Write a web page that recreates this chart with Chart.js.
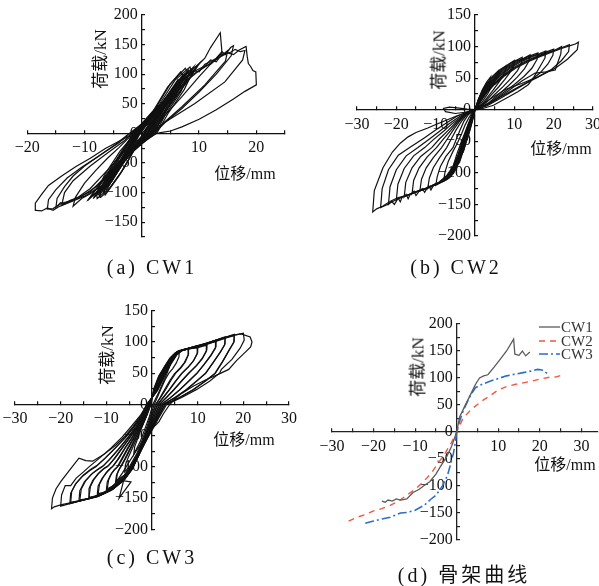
<!DOCTYPE html>
<html>
<head>
<meta charset="utf-8">
<script src="https://cdn.jsdelivr.net/npm/chart.js@4.4.0/dist/chart.umd.min.js"></script>
<style>
html, body { margin: 0; padding: 0; background: #fff; }
#wrap { position: relative; width: 599px; height: 586px; overflow: hidden; background: #fff; }
#wrap canvas { position: absolute; left: -40px; top: -40px; }
.t { position: absolute; white-space: nowrap; color: #111; transform: translate(-50%, -50%);
     font-family: 'Liberation Serif', 'DejaVu Serif', 'Noto Sans CJK SC', serif; font-size: 16px; }
.yt { transform: translate(-50%, -50%) rotate(-90deg); font-size: 17px; }
.cap { font-size: 20px; letter-spacing: 3px; }
</style>
</head>
<body>
<div id="wrap">
  <canvas id="cA" width="680" height="670"></canvas>
  <canvas id="cB" width="680" height="670"></canvas>
  <canvas id="cC" width="680" height="670"></canvas>
  <canvas id="cD" width="680" height="670"></canvas>

  <div class="t yt" style="left:98px;top:59px">荷载/kN</div>
  <div class="t" style="left:245px;top:172px">位移/mm</div>
  <div class="t cap" style="left:152px;top:267px">(a) CW1</div>

  <div class="t yt" style="left:437px;top:60px">荷载/kN</div>
  <div class="t" style="left:561px;top:147px">位移/mm</div>
  <div class="t cap" style="left:456px;top:267px">(b) CW2</div>

  <div class="t yt" style="left:105px;top:355px">荷载/kN</div>
  <div class="t" style="left:244px;top:438px">位移/mm</div>
  <div class="t cap" style="left:152px;top:557px">(c) CW3</div>

  <div class="t yt" style="left:416px;top:367px">荷载/kN</div>
  <div class="t" style="left:565px;top:463px">位移/mm</div>
  <div class="t cap" style="left:464px;top:573px">(d) 骨架曲线</div>
</div>
<script>
// ---- data: displacement (mm), load (kN) ----

// tick labels per panel
const xLabelsA = [-20, -10, 10, 20];
const yLabelsA = [200, 150, 100, 50, 0, -50, -100, -150];
const xLabelsB = [-30, -20, -10, 10, 20, 30];
const yLabelsB = [150, 100, 50, 0, -50, -100, -150, -200];
const xLabelsC = [-30, -20, -10, 10, 20, 30];
const yLabelsC = [150, 100, 50, 0, -50, -100, -150, -200];
const xLabelsD = [-30, -20, -10, 10, 20, 30];
const yLabelsD = [200, 150, 100, 50, 0, -50, -100, -150, -200];

// (a) CW1 hysteresis cycles
const cw1Cycles = [
  [[-0.3,0],[1,16],[2,30],[1.6,22],[0.3,0],[-1,-17],[-2,-32],[-1.6,-23],[-0.3,0]],
  [[-0.4,0],[1.5,23],[3,44],[2.4,33],[0.4,0],[-1.5,-24],[-3,-46],[-2.4,-34],[-0.4,0]],
  [[-0.5,0],[2,30],[4,57],[3.3,44],[0.5,0],[-2,-31],[-3.8,-58],[-3.1,-45],[-0.5,0]],
  [[-0.6,0],[2.5,37],[5,70],[4.2,55],[0.6,0],[-2.4,-37],[-4.6,-70],[-3.8,-55],[-0.6,0]],
  [[-0.7,0],[3,44],[6,82],[5.1,66],[0.8,0],[-2.8,-43],[-5.3,-82],[-4.4,-65],[-0.7,0]],
  [[-0.8,0],[3.4,50],[6.8,93],[5.8,76],[0.9,0],[-3.2,-49],[-6,-92],[-5,-74],[-0.8,0]],
  [[-0.9,0],[3.8,55],[7.5,101],[6.5,84],[1,0],[-3.6,-54],[-6.8,-100],[-5.7,-82],[-0.9,0]],
  [[-1,0],[4,57],[6.5,90],[7.2,97],[8.2,108],[7.1,90],[1.1,0],[-4,-58],[-7.5,-106],[-6.3,-88],[-1,0]],
  [[-1.1,0],[4.3,60],[7,97],[8,102],[9,112],[7.8,92],[1.3,0],[-4.5,-62],[-7,-95],[-8.5,-110],[-7.2,-92],[-1.1,0]],
  [[-1.2,0],[4.5,62],[7.5,100],[8.5,104],[10,118],[8.6,98],[1.5,0],[-5,-65],[-8,-100],[-9.5,-114],[-8,-95],[-1.2,0]],
  [[-0.6,0],[2.8,36],[5.5,72],[7.2,98],[6.4,82],[3.5,40],[1.4,0],[-2.5,-38],[-5.2,-75],[-6.8,-102],[-6,-86],[-3,-42],[-0.6,0]],
  [[-0.8,0],[3.2,42],[6,78],[8,103],[7,86],[4,44],[1.6,0],[-3,-44],[-6,-84],[-7.6,-104],[-6.6,-88],[-3.6,-46],[-0.8,0]],
  [[-1,0],[3.6,46],[6.6,84],[8.8,106],[7.7,90],[4.5,48],[1.8,0],[-3.4,-48],[-6.6,-90],[-8.4,-108],[-7.3,-92],[-4.2,-52],[-1,0]],
  [[-1.3,0],[3.5,40],[7,86],[9.5,110],[8.3,92],[5,50],[2,0],[-3.8,-50],[-7.2,-94],[-9.2,-110],[-8,-94],[-4.8,-54],[-1.3,0]],
  [[-0.4,0],[2.2,33],[4.6,66],[6.4,92],[5.6,77],[2.8,36],[1,0],[-2,-33],[-4.5,-68],[-6.2,-96],[-5.4,-80],[-2.5,-38],[-0.4,0]],
  [[-1.6,0],[2,38],[4.5,78],[6.8,104],[7.4,96],[6,65],[3.5,28],[2.2,0],[-1.5,-30],[-4,-72],[-6.4,-104],[-6.6,-95],[-5.5,-66],[-3,-26],[-1.6,0]],
  [[-1.4,0],[2.5,44],[5,84],[7.6,110],[8.2,100],[6.8,70],[4,30],[2.4,0],[-1.2,-26],[-3.6,-66],[-6,-98],[-7.2,-108],[-7.3,-98],[-6,-68],[-3.4,-28],[-1.4,0]],
  [[-1.2,0],[3,48],[5.8,90],[8.4,112],[8.8,102],[7.4,74],[4.6,34],[2.6,0],[-1,-22],[-3.2,-60],[-5.6,-92],[-7.8,-110],[-7.9,-100],[-6.5,-70],[-3.8,-30],[-1.2,0]],
  [[-1.5,0],[3,45],[6,85],[8,104],[9,110],[10,117],[11,127],[12,145],[13.7,170],[14,136],[12,117],[10,96],[7,62],[4,30],[1.8,0],
   [-1,-25],[-4,-56],[-7,-88],[-9,-102],[-10.5,-110],[-12,-123],[-11.6,-108],[-10,-84],[-8,-62],[-6,-42],[-4,-24],[-1.5,0]],
  [[-2.2,0],[4,45],[7,82],[9,100],[11,112],[12.5,122],[14,132],[15,140],[14.6,122],[11,82],[7,45],[3.5,15],[1.8,0],
   [-2,-28],[-5,-58],[-8,-90],[-10.5,-106],[-12.5,-114],[-14,-118],[-15.5,-127],[-16.5,-128],[-16.3,-112],[-15,-95],[-13,-75],[-10.5,-57],[-7.5,-38],[-4.5,-18],[-2.2,0]],
  [[-2,0],[3,40],[6,78],[8,98],[9,106],[10,104],[11,117],[12,121],[13,127],[14,138],[14.6,133],[15.5,145],[16,148],[15.6,131],[13,100],[10,70],[7,42],[4,18],[2.2,0],
   [-1,-22],[-4,-50],[-7,-80],[-9,-98],[-11,-108],[-12.5,-113],[-13.5,-119],[-14.2,-117],[-15,-125],[-14.8,-110],[-13.5,-90],[-12,-72],[-10,-55],[-7,-35],[-4,-16],[-2,0]],
  [[-1.8,0],[4,50],[7,88],[9,104],[11,114],[12,124],[13,121],[14,134],[15.5,137],[16.3,142],[17.2,138],[18,140],[17.6,124],[14.5,87],[9.2,50],[3.9,18],[1.5,0],
   [-2,-28],[-5,-62],[-8,-94],[-10,-106],[-12,-114],[-14,-122],[-13.5,-100],[-12,-80],[-9,-55],[-6,-33],[-3,-12],[-1.8,0]],
  [[0,0],[3,32],[6,68],[8,90],[10,106],[11,113],[12,117],[13,125],[14,131],[15,136],[16,133],[17,141],[18.2,147],[18.4,130],[18.6,118],[19,113],[19.4,106],[19.9,104],[20,82],
   [18,71],[16,58],[13,40],[10,24],[7,11],[5,4],[3,1],[0.5,-2],[-3,-30],[-6,-62],[-9,-93],[-11,-107],[-13,-117],[-14.5,-124],[-15.5,-130],[-16.5,-126],[-17.5,-131],[-18.5,-130],
   [-18.6,-118],[-17.5,-103],[-16.3,-88],[-14,-72],[-11.5,-56],[-9,-42],[-6.3,-25],[-2.6,-6],[0,0]]
];

// (b) CW2 hysteresis cycles
const cw2Cycles = [
  [[0,0],[0.8,15],[1.5,24],[2,30],[1.8,24],[1.2,14],[0.5,5],[0,0],[-0.5,-14],[-1,-26],[-1.5,-37],[-2,-48],[-1.5,-34],[-0.9,-18],[-0.3,-5],[0,0]],
  [[0,0],[0.8,15],[1.7,28],[2.4,36],[3,42],[2.8,35],[2.2,25],[1.4,14],[0.6,5],[0,0],[-0.5,-13],[-1.1,-27],[-1.8,-42],[-2.4,-55],[-3,-68],[-2.5,-52],[-1.8,-36],[-1.1,-20],[-0.4,-7],[0,0]],
  [[0,0],[0.9,17],[1.9,32],[3,44],[4,52],[3.8,45],[3.2,36],[2.4,25],[1.5,14],[0.6,5],[0,0],[-0.5,-12],[-1.2,-27],[-2,-45],[-2.8,-62],[-3.5,-75],[-4,-85],
   [-3.5,-68],[-2.8,-52],[-2,-36],[-1.2,-20],[-0.5,-7],[0,0]],
  [[0,0],[0.9,16],[2,31],[3.1,42],[4.5,53],[6,62],[5.8,55],[5.1,46],[4.2,36],[3.2,25],[2,14],[0.9,5],[0,0],[-0.6,-12],[-1.3,-27],[-2.1,-46],[-3,-65],[-4,-82],[-5,-95],[-6,-104],
   [-5.5,-88],[-4.6,-70],[-3.6,-53],[-2.6,-37],[-1.7,-22],[-0.8,-8],[0,0]],
  [[0,0],[1,16],[2.1,30],[3.3,42],[5,55],[6.5,64],[8,70],[7.8,62],[7,52],[5.9,42],[4.6,31],[3.2,20],[1.8,9],[0.6,2],[0,0],
   [-0.6,-12],[-1.4,-27],[-2.2,-47],[-3.2,-67],[-4.3,-86],[-5.4,-100],[-6.6,-108],[-8,-113],[-7.6,-98],[-6.8,-82],[-5.6,-66],[-4.4,-52],[-3.4,-38],[-2.5,-24],[-1.5,-12],[-0.4,-2],[0,0]],
  [[0,0],[1,15],[2.2,29],[3.4,41],[5.2,54],[7,65],[8.5,72],[10,78],[9.8,70],[8.9,59],[7.6,48],[6,36],[4.2,24],[2.5,12],[0.9,3],[0,0],
   [-0.7,-12],[-1.5,-27],[-2.4,-48],[-3.4,-68],[-4.5,-87],[-5.7,-102],[-7,-110],[-8.5,-115],[-10,-120],[-9.6,-106],[-8.8,-90],[-7.4,-74],[-5.6,-60],[-4.7,-46],[-3.8,-32],[-2.8,-18],[-1.7,-8],[-0.5,-2],[0,0]],
  [[0,0],[1.1,15],[2.3,29],[3.6,41],[5.4,54],[7.5,66],[9.5,75],[12,83],[11.8,74],[10.8,62],[9.2,50],[7.2,37],[5,24],[3,12],[1.1,3],[0,0],
   [-0.7,-11],[-1.6,-27],[-2.5,-48],[-3.6,-69],[-4.7,-88],[-6,-103],[-7.4,-111],[-9,-116],[-10.5,-119],[-11.2,-127],[-11.7,-121],[-12,-124],
   [-11.6,-108],[-10.6,-92],[-9,-76],[-7.2,-60],[-6,-46],[-4.8,-32],[-3.5,-19],[-2.1,-8],[-0.7,-2],[0,0]],
  [[0,0],[1.1,14],[2.4,28],[3.8,41],[5.6,54],[8,67],[10.5,77],[12.5,82],[14,87],[13.8,78],[12.6,65],[10.8,52],[8.5,38],[6,24],[3.5,11],[1.3,3],[0,0],
   [-0.7,-11],[-1.6,-27],[-2.6,-48],[-3.7,-69],[-4.9,-88],[-6.2,-103],[-7.7,-112],[-9.3,-116],[-10.8,-121],[-12.1,-123],[-12.8,-131],[-13.4,-125],[-14,-128],
   [-13.6,-110],[-12.4,-92],[-10.6,-76],[-8.5,-60],[-7,-46],[-5.5,-32],[-4,-19],[-2.4,-8],[-0.8,-2],[0,0]],
  [[0,0],[1.2,14],[2.5,28],[4,41],[5.9,54],[8.4,67],[11,77],[13.5,84],[16,90],[15.8,80],[14.5,66],[12.5,53],[10,40],[7,26],[4,12],[1.5,3],[0,0],
   [-0.8,-12],[-1.7,-28],[-2.7,-49],[-3.8,-70],[-5,-89],[-6.4,-104],[-8,-113],[-9.6,-117],[-11.2,-122],[-12.7,-125],[-14.2,-129],[-15,-136],[-15.5,-129],[-16,-133],
   [-15.6,-112],[-14.2,-92],[-12.2,-75],[-9.8,-60],[-8,-46],[-6.2,-33],[-4.5,-20],[-2.7,-9],[-0.9,-2],[0,0]],
  [[0,0],[1.2,14],[2.6,28],[4.2,41],[6.2,54],[8.8,67],[11.5,77],[14.5,85],[16.5,89],[18,93],[17.8,82],[16.5,68],[15,52],[13.6,40],[11,29],[8.5,20],[4.7,7],[2,2],[0,0],
   [-0.8,-12],[-1.8,-28],[-2.8,-49],[-3.9,-70],[-5.1,-89],[-6.6,-104],[-8.2,-113],[-9.9,-118],[-11.6,-123],[-13.2,-126],[-14.9,-130],[-16.4,-133],[-17,-141],[-17.5,-134],[-18,-138],
   [-17.6,-115],[-16,-92],[-13.8,-74],[-11,-60],[-9,-46],[-7,-34],[-5,-21],[-3,-10],[-1,-3],[0,0]],
  [[0,0],[1.3,14],[2.7,28],[4.4,41],[6.5,54],[9.2,67],[12,77],[15,85],[17.5,90],[20,96],[19.8,86],[18.5,72],[16.5,58],[13.6,44],[10,31],[6.5,18],[3,6],[0,0],
   [-0.8,-11],[-1.8,-28],[-2.9,-49],[-4,-70],[-5.2,-89],[-6.7,-104],[-8.4,-114],[-10.2,-118],[-12,-124],[-13.8,-127],[-15.5,-131],[-17,-135],[-18.5,-138],[-19,-146],[-19.5,-140],[-20,-143],
   [-19.6,-118],[-18,-93],[-15.6,-73],[-12.8,-60],[-10.5,-47],[-8,-34],[-5.8,-22],[-3.5,-11],[-1.2,-3],[0,0]],
  [[0,0],[1.3,13],[2.8,27],[4.6,40],[6.8,53],[9.6,66],[12.5,76],[15.5,84],[18.5,91],[20.5,95],[22,100],[21.8,88],[21,74],[20.4,63],[18,60],[15.3,58],[12,46],[8.5,30],[4.5,13],[0,0],
   [-0.9,-12],[-1.9,-28],[-3,-49],[-4.1,-70],[-5.3,-89],[-6.9,-104],[-8.6,-114],[-10.5,-119],[-12.4,-125],[-14.3,-129],[-16.2,-133],[-18,-137],[-19.6,-141],[-20.5,-150],[-21.2,-145],[-22,-150],
   [-21.6,-122],[-20,-95],[-17.5,-73],[-14.5,-60],[-11.5,-46],[-9,-34],[-6.5,-22],[-4,-11],[-1.5,-3],[0,0]],
  [[0,0],[1.4,13],[2.9,27],[4.8,40],[7.1,53],[10,66],[13,76],[16,84],[19,91],[21.5,97],[24,103],[23.8,92],[22,78],[19.5,64],[15.5,50],[11,36],[7,22],[3.5,9],[0,0],
   [-0.9,-12],[-2,-29],[-3.1,-50],[-4.2,-71],[-5.5,-90],[-7.1,-105],[-8.9,-115],[-10.8,-120],[-12.8,-126],[-14.8,-130],[-16.8,-135],[-18.8,-139],[-20.8,-145],[-22.5,-151],[-24,-155],
   [-23.6,-125],[-22,-95],[-19.5,-72],[-16.6,-60],[-13,-45],[-10,-32],[-7,-20],[-4.5,-10],[-2,-4],[0,0]],
  [[0,0],[1.4,13],[3,27],[5,40],[7.4,53],[10.4,66],[13.5,76],[16.5,84],[19.5,91],[22,97],[24,101],[25.5,104],[26.3,107],[26,95],[23.5,80],[20.5,66],[16,52],[12,42],[7.7,32],[3.4,15],[0,0],
   [-1,-12],[-2,-29],[-3.2,-50],[-4.3,-71],[-5.6,-90],[-7.3,-105],[-9.2,-115],[-11.2,-121],[-13.3,-127],[-15.4,-131],[-17.5,-136],[-19.5,-139],[-21.5,-145],[-23.5,-153],[-25,-157],[-26,-162],
   [-25.6,-128],[-23.4,-92],[-21,-67],[-19,-53],[-17,-43],[-15,-36],[-12,-29],[-9.8,-23],[-7,-16],[-4.7,-10],[-2,-4],[0,0]],
  [[0,0],[-2,1],[-4.5,3],[-6.5,4],[-8,2],[-7.5,-3],[-5,-6],[-2.5,-4],[0,0]]
];

// (c) CW3 hysteresis cycles
const cw3Cycles = [
  [[-0.2,0],[0.4,25],[1.5,46],[2.8,60],[4,70],[3.8,60],[3.2,48],[2.4,35],[1.5,20],[0.7,8],[0.2,0],
   [-0.6,-20],[-1.6,-40],[-2.6,-60],[-4,-80],[-3.8,-68],[-3.2,-56],[-2.4,-40],[-1.5,-24],[-0.6,-8],[-0.2,0]],
  [[-0.3,0],[0.4,24],[1.5,45],[2.7,60],[3.9,74],[5,82],[6,86],[5.9,76],[5.3,66],[4.5,57],[3.7,50],[2.9,40],[2.1,27],[1.2,12],[0.5,0],
   [-0.4,-20],[-1.3,-40],[-2.3,-60],[-3.4,-80],[-4.8,-98],[-6,-108],[-5.8,-96],[-5.2,-85],[-4.4,-72],[-3.3,-54],[-2.2,-36],[-1.1,-17],[-0.3,0]],
  [[-0.4,0],[0.5,24],[1.6,45],[2.9,62],[4.1,75],[5.2,83],[6.5,87],[8,90],[8,80],[7.3,68],[6.3,58],[5.2,50],[4.2,39],[3.1,25],[1.9,11],[0.8,0],
   [-0.2,-20],[-1.1,-40],[-2.1,-60],[-3.2,-80],[-4.6,-98],[-6.1,-114],[-8,-126],
   [-7.8,-114],[-7.3,-105],[-6.9,-100],[-6,-88],[-4.9,-72],[-3.7,-54],[-2.4,-36],[-1.2,-17],[-0.4,0]],
  [[-0.5,0],[0.7,25],[1.9,47],[3.1,63],[4.3,76],[5.4,84],[6.8,87],[8,89],[7.9,79],[7.1,67],[6,57],[4.9,49],[3.9,38],[2.8,24],[1.7,10],[0.9,0],
   [-0.1,-20],[-1,-40],[-2,-60],[-3.1,-80],[-4.5,-99],[-6,-113],[-7.8,-122],[-7.6,-111],[-7,-102],[-6.4,-95],[-5.6,-84],[-4.6,-70],[-3.5,-53],[-2.3,-36],[-1.2,-18],[-0.5,0]],
  [[-0.5,0],[0.6,24],[1.8,46],[3,62],[4.3,76],[5.4,84],[7,88],[8.5,90],[10,93],[10,83],[9.2,71],[8,60],[6.6,50],[5.3,38],[3.9,24],[2.5,11],[1.2,0],
   [0.1,-20],[-0.9,-40],[-1.9,-60],[-3.1,-80],[-4.5,-99],[-6.1,-115],[-8,-128],[-10,-138],
   [-9.8,-124],[-9.1,-113],[-8.3,-105],[-7.6,-100],[-6.7,-88],[-5.5,-72],[-4.1,-54],[-2.7,-36],[-1.4,-17],[-0.5,0]],
  [[-0.6,0],[0.8,25],[2,47],[3.3,64],[4.5,77],[5.7,85],[7.4,88],[9,90],[10,91],[9.9,81],[9,69],[7.8,59],[6.4,49],[5.1,37],[3.7,23],[2.3,10],[1.3,0],
   [0.2,-20],[-0.8,-40],[-1.8,-60],[-3,-80],[-4.4,-100],[-6,-116],[-7.8,-128],[-9.8,-135],[-9.5,-121],[-8.8,-110],[-8,-103],[-7.3,-98],[-6.4,-86],[-5.2,-70],[-3.9,-53],[-2.6,-36],[-1.3,-18],[-0.6,0]],
  [[-0.6,0],[0.7,24],[1.9,45],[3.2,63],[4.5,77],[5.6,85],[7.5,89],[10,92],[12,97],[12,87],[11.1,75],[9.7,62],[8.1,50],[6.6,38],[4.9,24],[3.2,11],[1.6,0],
   [0.4,-20],[-0.7,-40],[-1.8,-60],[-3,-80],[-4.4,-100],[-6,-116],[-7.2,-150],[-4.6,-124],[-6.4,-122],[-8,-130],[-10,-139],[-12,-146],
   [-11.8,-131],[-11,-119],[-10,-109],[-9.2,-103],[-8.7,-100],[-7.5,-88],[-6.1,-72],[-4.5,-54],[-3,-36],[-1.6,-17],[-0.6,0]],
  [[-0.7,0],[0.9,24],[2.1,46],[3.4,64],[4.7,78],[5.9,85],[8,89],[10,91],[12,95],[11.9,85],[11,73],[9.6,61],[7.9,49],[6.4,37],[4.7,23],[3,10],[1.7,0],
   [0.5,-20],[-0.6,-40],[-1.7,-60],[-2.9,-80],[-4.3,-100],[-5.9,-117],[-8,-131],[-10,-140],[-11.8,-143],[-11.5,-128],[-10.7,-117],[-9.7,-107],[-8.9,-101],[-8.4,-98],
   [-7.2,-86],[-5.9,-70],[-4.3,-53],[-2.9,-36],[-1.5,-18],[-0.7,0]],
  [[-0.7,0],[0.8,24],[2.1,45],[3.4,63],[4.7,77],[5.8,85],[8,89],[10,93],[12,97],[14,103],[14,92],[13,80],[11.5,65],[9.9,50],[8.2,38],[6.2,24],[4.1,11],[2,0],
   [0.7,-20],[-0.5,-40],[-1.7,-60],[-2.9,-80],[-4.3,-100],[-6,-117],[-8.2,-132],[-10.5,-142],[-12.5,-147],[-14,-151],
   [-13.8,-135],[-13,-122],[-11.8,-111],[-10.7,-104],[-9.8,-100],[-8.4,-88],[-6.8,-72],[-5,-54],[-3.3,-36],[-1.8,-17],[-0.7,0]],
  [[-0.8,0],[1,24],[2.3,46],[3.6,64],[4.9,78],[6,86],[8.3,90],[10.5,93],[12.5,97],[14,101],[13.9,90],[12.9,78],[11.3,63],[9.7,49],[8,37],[6,23],[3.9,10],[2.1,0],
   [0.8,-20],[-0.4,-40],[-1.6,-60],[-2.8,-80],[-4.2,-100],[-5.9,-118],[-8.2,-133],[-10.5,-143],[-12.5,-147],[-13.8,-149],[-13.5,-132],[-12.7,-120],[-11.5,-109],[-10.4,-102],[-9.5,-98],
   [-8.1,-86],[-6.5,-70],[-4.8,-53],[-3.2,-36],[-1.7,-18],[-0.8,0]],
  [[-0.8,0],[0.9,23],[2.3,45],[3.6,63],[4.9,78],[6,86],[8,90],[10,93],[12,98],[14,103],[16,108],[16,97],[15,84],[13.5,68],[11.8,50],[9.9,38],[7.6,24],[5,11],[2.4,0],
   [1,-20],[-0.3,-40],[-1.6,-60],[-2.8,-80],[-4.2,-101],[-5.9,-118],[-8.3,-134],[-11,-144],[-13.5,-150],[-16,-155],
   [-15.8,-138],[-14.8,-124],[-13.3,-112],[-12,-105],[-10.9,-100],[-9.3,-88],[-7.4,-72],[-5.4,-54],[-3.6,-36],[-2,-17],[-0.8,0]],
  [[-0.9,0],[1.1,23],[2.5,45],[3.8,64],[5.1,78],[6.2,86],[8.5,90],[10.5,93],[12.5,98],[14.5,103],[16,106],[15.9,95],[14.8,82],[13.3,66],[11.6,49],[9.7,37],[7.4,23],[4.9,10],[2.5,0],
   [1.1,-20],[-0.2,-40],[-1.5,-60],[-2.8,-80],[-4.2,-101],[-6,-119],[-8.4,-135],[-11.2,-145],[-13.8,-151],[-15.8,-153],[-15.5,-136],[-14.5,-122],[-13,-110],[-11.7,-103],[-10.6,-98],
   [-9,-86],[-7.1,-70],[-5.2,-53],[-3.4,-36],[-1.9,-18],[-0.9,0]],
  [[-0.9,0],[1,23],[2.4,45],[3.8,64],[5.1,78],[6.2,86],[8.5,91],[11,95],[13,100],[15.5,106],[18,112],[18,101],[17,88],[15.6,70],[13.9,50],[11.8,38],[9.1,24],[6,11],[2.8,0],
   [1.3,-20],[-0.1,-40],[-1.5,-60],[-2.8,-80],[-4.2,-102],[-6,-120],[-8.6,-136],[-11.5,-146],[-14.5,-152],[-18,-159],
   [-17.8,-142],[-16.8,-128],[-15.2,-115],[-13.6,-106],[-12.3,-100],[-10.5,-88],[-8.3,-72],[-6,-54],[-4,-36],[-2.2,-17],[-0.9,0]],
  [[-1,0],[1.2,23],[2.7,45],[4,64],[5.3,79],[6.4,86],[9,92],[11.5,96],[14,101],[16,106],[18,110],[17.9,99],[16.8,86],[15.4,68],[13.7,49],[11.6,37],[8.9,23],[5.9,10],[2.9,0],
   [1.4,-20],[0,-40],[-1.4,-60],[-2.8,-80],[-4.3,-103],[-6.1,-121],[-8.8,-137],[-11.8,-147],[-15,-153],[-17.8,-157],[-17.6,-140],[-16.6,-126],[-15,-113],[-13.4,-104],[-12.1,-98],
   [-10.3,-86],[-8.1,-70],[-5.8,-53],[-3.9,-36],[-2.1,-18],[-1,0]],
  [[-1,0],[1.1,23],[2.6,46],[4,65],[5.3,79],[6.4,86],[9,92],[12,98],[15,105],[17.5,110],[20,114],[20.2,103],[19.3,90],[17.5,72],[15.2,56],[14.8,50],[12.6,37],[9.8,24],[6.5,11],[3.2,0],
   [1.6,-20],[0.1,-40],[-1.5,-60],[-2.9,-80],[-4.4,-104],[-6.2,-122],[-9,-138],[-12,-148],[-16,-155],[-20,-163],
   [-19.8,-145],[-19,-130],[-17.8,-130],[-16.6,-118],[-15,-108],[-13.8,-100],[-11.5,-86],[-9,-70],[-6.5,-52],[-4.5,-35],[-2.5,-17],[-1,0]],
  [[-1.2,0],[1.2,22],[2.8,46],[4.2,65],[5.5,80],[6.6,86],[9.5,93],[12.5,99],[15.5,106],[18,111],[19.5,113],[21.5,108],[21.9,100],[21.6,92],
   [20.5,84],[18.5,70],[16.8,56],[14.5,48],[11.7,39],[9,29],[6.6,18],[5,9],[3.8,-1],[2.5,-15],[1.5,-28],[-0.3,-41],
   [-2,-58],[-3.5,-75],[-5,-92],[-6.5,-110],[-8,-126],[-9.4,-136],[-11.5,-145],[-13.7,-150],[-16,-155],[-18.2,-158],[-20,-161],[-21.4,-164],[-22,-167],
   [-21.8,-150],[-21,-135],[-19.9,-123],[-18,-105],[-16,-86],[-14.5,-90],[-13,-91],[-10.5,-80],[-7.9,-65],[-5.8,-50],[-4.2,-36],[-2.1,-14],[-1.2,0]]
];

// (d) skeleton curves
const skeletonLabels = ['CW1', 'CW2', 'CW3'];
const cw1Skeleton = [[-18,-128],[-17.2,-130],[-16.5,-126],[-15.5,-128],[-14.5,-124],[-13.5,-126],[-12,-124],[-10.5,-112],[-9,-106],[-8,-100],
  [-6.5,-92],[-5,-78],[-4,-65],[-2.5,-47],[-1.3,-28],[0,0],[0.7,28],[1.9,47],[3.5,72],[4.5,88],[5.5,100],[6.5,104],[7.5,106],
  [9,120],[10.5,135],[12,150],[13.7,172],[14,144],[15,142],[15.8,150],[16.6,141],[17.6,148]];
const cw2Skeleton = [[-26,-165],[-24,-158],[-22,-153],[-20,-146],[-18,-142],[-16,-136],[-14,-128],[-12,-117],[-10,-106],[-8,-92],
  [-6,-75],[-4.5,-58],[-3,-42],[-1.3,-20],[0,0],[1.5,25],[3.5,42],[6,57],[8,67],[10,78],[12,84],[14,88],[16,91],[18,94],[20,98],[22,101],[24,102],[26,107]];
const cw3Skeleton = [[-22,-169],[-20,-165],[-18,-161],[-16,-158],[-13.5,-150],[-12,-149],[-10,-145],[-7.7,-135],[-6.3,-125],[-5,-117],
  [-3.5,-101],[-2.2,-80],[-1.3,-55],[-0.8,-40],[-0.3,-18],[0,0],[0.8,22],[1.5,38],[2.5,55],[3.5,70],[4.5,82],[6,88],[8,94],[10,99],
  [12,104],[14,107],[16,110],[18,113],[19.5,116],[20.5,115],[21.5,110],[22,107]];

// ---- layout ----
const OFF = 40, CW = 680, CH = 670;            // canvas is offset by -40px on the page
const tickFont = { family: "'Liberation Serif', 'Times New Roman', 'DejaVu Serif', serif", size: 16 };

function fmt(v) { return v < 0 ? '\u2212' + Math.abs(v) : String(v); }

function loopSets(loops) {
  return loops.map(l => ({
    data: l, showLine: true, borderColor: '#111', borderWidth: 1.2,
    pointRadius: 0, fill: false, tension: 0
  }));
}

// area = [left, top, right, bottom] of the plot box on the page
function makePanel(id, area, xr, yr, xLabels, yLabels, datasets, axisColor, plugins) {
  const grid = { drawOnChartArea: false, drawTicks: true, tickLength: -4, color: axisColor, lineWidth: 1.2 };
  new Chart(document.getElementById(id), {
    type: 'scatter',
    data: { datasets },
    options: {
      responsive: false,
      animation: false,
      events: [],
      layout: { padding: { left: area[0] + OFF, top: area[1] + OFF, right: CW - OFF - area[2], bottom: CH - OFF - area[3] } },
      plugins: { legend: { display: false }, tooltip: { enabled: false } },
      scales: {
        x: {
          type: 'linear', position: { y: 0 }, min: xr[0], max: xr[1],
          grid, border: { color: axisColor, width: 1.3 },
          ticks: { stepSize: 5, includeBounds: false, autoSkip: false, maxRotation: 0, minRotation: 0,
                   padding: 9, color: '#111', font: tickFont,
                   callback: v => xLabels.includes(v) ? fmt(v) : '' }
        },
        y: {
          type: 'linear', position: { x: 0 }, min: yr[0], max: yr[1],
          grid, border: { color: axisColor, width: 1.3 },
          ticks: { stepSize: 25, includeBounds: false, autoSkip: false, color: '#111', font: tickFont,
                   // labels sit right against the axis; a trailing space gives the gap
                   callback: v => yLabels.includes(v) ? fmt(v) + ' ' : '' }
        }
      }
    },
    plugins: plugins || []
  });
}

// legend in the upper right corner of panel (d)
const legendPos = { x0: 539, x1: 560, ys: [327, 341, 354] };
const cornerLegend = {
  id: 'cornerLegend',
  afterDatasetsDraw(chart) {
    const ctx = chart.ctx;
    chart.data.datasets.forEach((ds, i) => {
      const y = legendPos.ys[i] + OFF;
      ctx.save();
      ctx.strokeStyle = ds.borderColor;
      ctx.lineWidth = ds.borderWidth;
      ctx.setLineDash(ds.borderDash || []);
      ctx.beginPath();
      ctx.moveTo(legendPos.x0 + OFF, y);
      ctx.lineTo(legendPos.x1 + OFF, y);
      ctx.stroke();
      ctx.setLineDash([]);
      ctx.fillStyle = '#333';
      ctx.font = "15px 'Liberation Serif', 'DejaVu Serif', serif";
      ctx.textBaseline = 'middle';
      ctx.fillText(ds.label, legendPos.x1 + OFF + 1, y + 1);
      ctx.restore();
    });
  }
};

makePanel('cA', [27.3, 15, 285, 237], [-20, 25], [-175, 200], xLabelsA, yLabelsA, loopSets(cw1Cycles), '#111');
makePanel('cB', [357, 15, 593, 236], [-30, 30], [-200, 150], xLabelsB, yLabelsB, loopSets(cw2Cycles), '#111');
makePanel('cC', [15, 310.7, 289, 529.3], [-30, 30], [-200, 150], xLabelsC, yLabelsC, loopSets(cw3Cycles), '#111');
makePanel('cD', [332, 324, 598, 540], [-30, 34], [-200, 200], xLabelsD, yLabelsD, [
  { label: skeletonLabels[0], data: cw1Skeleton, showLine: true, borderColor: '#5a5a5a', borderWidth: 1.3, pointRadius: 0, tension: 0 },
  { label: skeletonLabels[1], data: cw2Skeleton, showLine: true, borderColor: '#f0593e', borderWidth: 1.4, borderDash: [6, 5], pointRadius: 0, tension: 0 },
  { label: skeletonLabels[2], data: cw3Skeleton, showLine: true, borderColor: '#2a6fc9', borderWidth: 1.6, borderDash: [9, 3, 2, 3], pointRadius: 0, tension: 0 }
], '#222', [cornerLegend]);
</script>
</body>
</html>
